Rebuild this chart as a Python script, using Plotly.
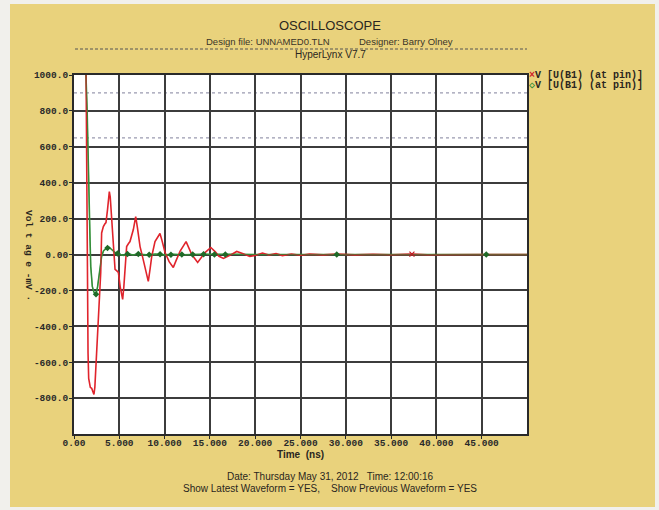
import plotly.graph_objects as go

# ---------------- data ----------------
red_t = [0, 1.05, 1.25, 1.32, 1.40, 1.47, 1.55, 1.62, 1.70, 1.80, 1.95, 2.05, 2.20, 2.30,
         2.45, 2.62, 2.80, 2.95, 3.05, 3.24, 3.40, 3.53, 3.70, 3.90, 4.00, 4.16, 4.30, 4.53,
         4.70, 4.90, 5.10, 5.37, 5.50, 5.81, 6.00, 6.18, 6.55, 6.81, 7.00, 7.29, 7.60, 7.84,
         8.20, 8.40, 8.58, 8.94, 9.20, 9.49, 9.70, 10.05, 10.50, 10.96, 11.30, 11.70, 12.37,
         12.70, 13.00, 13.65, 14.00, 14.46, 15.10, 15.60, 16.00, 16.50, 17.20, 17.96, 18.60,
         19.40, 20.00, 20.80, 21.50, 22.30, 23.00, 24.00, 25.00, 26.00, 27.50, 29.00, 31.00,
         33.00, 35.00, 37.30, 39.00, 42.00, 45.00, 50.00]
red_v = [3300, 3300, 1600, 1000, 300, -210, -550, -690, -730, -740, -745, -760, -780, -740,
         -600, -470, -300, -100, 120, 156, 170, 178, 250, 350, 320, 211, 100, -83,
         -90, -100, -180, -250, -180, 44, 60, 72, 139, 211, 150, 44, -20, -67,
         -150, -80, -11, 72, 90, 117, 80, 11, -40, -72, -30, 17, 72,
         30, 0, -44, -20, 11, 39, 15, -10, -22, -5, 17, 5,
         -11, -5, 8, -3, 5, -6, 3, -4, 2, -2, 3, -2,
         1, -1, 2, -1, 1, 0, 0]

green_t = [0, 1.05, 1.25, 1.32, 1.45, 1.52, 1.57, 1.62, 1.66, 1.72, 1.77, 1.85, 2.02, 2.20,
           2.43, 2.60, 2.80, 3.05, 3.25, 3.42, 3.90, 4.20, 4.53, 5.08, 5.50, 6.00, 6.50,
           7.00, 8.00, 9.00, 10.00, 11.00, 12.00, 14.00, 16.00, 18.00, 20.00, 25.00, 30.00,
           35.00, 40.00, 45.00, 50.00]
green_v = [3300, 3300, 1500, 1000, 800, 600, 528, 400, 289, 150, 83, -67, -178, -210,
           -222, -180, -100, -11, 20, 28, 39, 25, 11, 0, -5, 4, -3,
           3, -2, 2, -2, 1, -1, 1, -1, 1, 0, 0, 0,
           0, 0, 0, 0]

green_marker_t = [2.43, 3.70, 4.80, 5.90, 7.10, 8.30, 9.50, 10.70, 11.90, 13.10, 14.30, 15.50, 16.70, 29.00, 45.50]
green_marker_v = [-222, 36, 6, 3, 3, -2, 2, -1, 0, 0, 1, 0, 0, 0, 0]
red_marker_t = [37.30]
red_marker_v = [2]

threshold_levels = [900, 650]

y_tick_vals = [1000, 800, 600, 400, 200, 0, -200, -400, -600, -800]
y_tick_text = ["1000.0", "800.0", "600.0", "400.0", "200.0", "0.00",
               "-200.0", "-400.0", "-600.0", "-800.0"]
x_tick_vals = [0, 5, 10, 15, 20, 25, 30, 35, 40, 45]
x_tick_text = ["0.00", "5.000", "10.000", "15.000", "20.000", "25.000",
               "30.000", "35.000", "40.000", "45.000"]

legend_label = "V [U(B1) (at pin)]"

# ---------------- layout geometry ----------------
WIDTH, HEIGHT = 659, 510
L, R, T, B = 74, 527, 75, 434
PW, PH = R - L, B - T


def px_x(p):
    return (p - L) / PW


def px_y(p):
    return (B - p) / PH


YELLOW = "#e9d27c"
BORDER = "#f1f0ec"
TEXT = "#2a2620"
MONO = "Liberation Mono, Courier New, monospace"
SANS = "Liberation Sans, Arial, sans-serif"

fig = go.Figure()

fig.add_trace(go.Scatter(x=green_t, y=green_v, mode="lines",
                         line=dict(color="#3a9a3e", width=1.6), showlegend=False,
                         hoverinfo="skip"))
fig.add_trace(go.Scatter(x=red_t, y=red_v, mode="lines",
                         line=dict(color="#e0242c", width=1.6), showlegend=False,
                         hoverinfo="skip"))
fig.add_trace(go.Scatter(x=green_t, y=green_v, mode="lines",
                         line=dict(color="#2f7f35", width=1.0), opacity=0.6,
                         showlegend=False, hoverinfo="skip"))
fig.add_trace(go.Scatter(x=green_marker_t, y=green_marker_v, mode="markers",
                         marker=dict(symbol="diamond", size=5, color="#1f6a28"),
                         showlegend=False, hoverinfo="skip"))
fig.add_trace(go.Scatter(x=red_marker_t, y=red_marker_v, mode="markers",
                         marker=dict(symbol="x-thin", size=5,
                                     line=dict(color="#c01c24", width=1.2)),
                         showlegend=False, hoverinfo="skip"))

shapes = []
for lvl in threshold_levels:
    shapes.append(dict(type="line", xref="x", yref="y", x0=0, x1=50, y0=lvl, y1=lvl,
                       line=dict(color="#9a9ab0", width=1.2, dash="dot"), layer="below"))
# dashed separator under the header
shapes.append(dict(type="line", xref="paper", yref="paper",
                   x0=px_x(75), x1=px_x(527), y0=px_y(49), y1=px_y(49),
                   line=dict(color="#555555", width=1, dash="3px,2px")))
# light outer border strips
for (x0, x1, y0, y1) in [(0, 10, 0, HEIGHT), (0, WIDTH, 0, 4),
                         (655, WIDTH, 0, HEIGHT), (0, WIDTH, 507, HEIGHT)]:
    shapes.append(dict(type="rect", xref="paper", yref="paper",
                       x0=px_x(x0), x1=px_x(x1), y0=px_y(y1), y1=px_y(y0),
                       fillcolor=BORDER, line=dict(width=0), layer="above"))


def ann(text, x, y, size, family=SANS, color=TEXT, xanchor="center", angle=0, bold=False):
    return dict(text=text, x=px_x(x), y=px_y(y), xref="paper", yref="paper",
                xanchor=xanchor, yanchor="middle", showarrow=False, textangle=angle,
                font=dict(family=family, size=size, color=color,
                          weight="bold" if bold else "normal"))


annotations = [
    ann("OSCILLOSCOPE", 330, 25, 13),
    ann("Design file: UNNAMED0.TLN", 268, 41, 9.5, color="#3a3428"),
    ann("Designer: Barry Olney", 406, 41, 9.5, color="#3a3428"),
    ann("HyperLynx V7.7", 330, 55, 10),
    ann("Time  (ns)", 300, 454, 10, bold=True),
    ann("Date: Thursday May 31, 2012   Time: 12:00:16", 330, 476, 10),
    ann("Show Latest Waveform = YES,    Show Previous Waveform = YES", 330, 489, 10),
    ann("Vol t ag e -mV ·", 29, 255, 9.5, family=MONO, angle=90, bold=True),
    ann('<span style="color:#d0242c">×</span>' + legend_label, 527, 76, 10,
        family=MONO, xanchor="left", bold=True),
    ann('<span style="color:#2f8a36">◇</span>' + legend_label, 527, 85, 10,
        family=MONO, xanchor="left", bold=True),
]

axis_common = dict(showgrid=True, gridcolor="#3c3c3c", gridwidth=1.5,
                   showline=True, linecolor="#2a2a2a", linewidth=2, mirror=True,
                   zeroline=False, ticks="outside", ticklen=3, tickcolor="#2a2a2a",
                   tickfont=dict(family=MONO, size=9.5, color="#2a2a2a", weight="bold"))

fig.update_layout(
    width=WIDTH, height=HEIGHT, autosize=False,
    margin=dict(l=L, r=WIDTH - R, t=T, b=HEIGHT - B, pad=0),
    paper_bgcolor=YELLOW, plot_bgcolor="#ffffff",
    xaxis=dict(range=[0, 50], tickmode="array", tickvals=x_tick_vals,
               ticktext=x_tick_text, ticklabelstandoff=-4, **axis_common),
    yaxis=dict(range=[-1000, 1000], tickmode="array", tickvals=y_tick_vals,
               ticktext=y_tick_text, ticklabelstandoff=-1, **axis_common),
    shapes=shapes, annotations=annotations, showlegend=False,
)

fig.write_html("out.html", config={"displayModeBar": False},
               post_script="document.body.style.margin='0';document.body.style.overflow='hidden';")
